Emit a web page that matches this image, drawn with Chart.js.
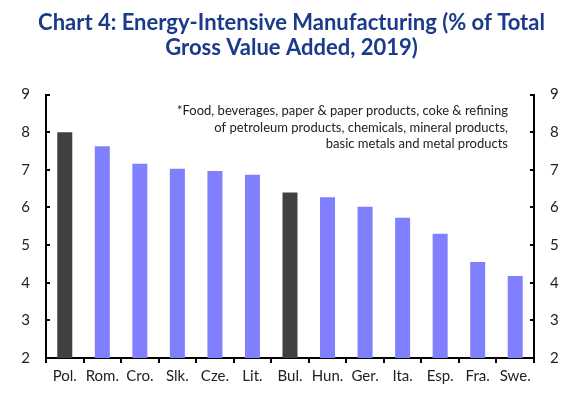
<!DOCTYPE html>
<html>
<head>
<meta charset="utf-8">
<script src="https://cdn.jsdelivr.net/npm/chart.js@4.4.1/dist/chart.umd.min.js"></script>
<style>
  html, body { margin: 0; padding: 0; background: #fff; }
  #wrap { width: 583px; height: 394px; }
</style>
</head>
<body>
<div id="wrap"><canvas id="chart" width="583" height="394"></canvas></div>
<script>
const countries = ["Pol.", "Rom.", "Cro.", "Slk.", "Cze.", "Lit.", "Bul.", "Hun.", "Ger.", "Ita.", "Esp.", "Fra.", "Swe."];
const shares = [8.0, 7.63, 7.16, 7.03, 6.97, 6.87, 6.4, 6.27, 6.02, 5.73, 5.3, 4.55, 4.18];
const highlighted = ["Pol.", "Bul."];
const yTicks = [2, 3, 4, 5, 6, 7, 8, 9];
const footnote = [
  "*Food, beverages, paper & paper products, coke & refining",
  "of petroleum products, chemicals, mineral products,",
  "basic metals and metal products"
];

const FONT = "Lato, 'Open Sans', sans-serif";

const barColors = countries.map(c => highlighted.includes(c) ? "#404040" : "#8080ff");

// small tick marks pointing into the plot on both y axes, plus the footnote
const extras = {
  id: "extras",
  afterDraw(chart) {
    const ctx = chart.ctx;
    const area = chart.chartArea;
    ctx.save();
    ctx.strokeStyle = "#000";
    ctx.lineWidth = 2;
    const yl = chart.scales.y;
    yTicks.forEach(v => {
      const py = Math.round(yl.getPixelForValue(v));
      ctx.beginPath();
      ctx.moveTo(area.left, py);
      ctx.lineTo(area.left + 4, py);
      ctx.moveTo(area.right, py);
      ctx.lineTo(area.right - 4, py);
      ctx.stroke();
    });
    ctx.fillStyle = "#222";
    ctx.font = "13px " + FONT;
    ctx.textAlign = "right";
    ctx.textBaseline = "middle";
    footnote.forEach((line, i) => {
      ctx.fillText(line, 508, 111 + i * 16.5);
    });
    ctx.restore();
  }
};

new Chart(document.getElementById("chart"), {
  type: "bar",
  data: {
    labels: countries,
    datasets: [{
      data: shares,
      backgroundColor: barColors,
      barPercentage: 0.4,
      categoryPercentage: 1.0
    }]
  },
  options: {
    responsive: false,
    animation: false,
    layout: { padding: { top: 10, left: 0, right: 0, bottom: 0 } },
    plugins: {
      legend: { display: false },
      tooltip: { enabled: false },
      title: {
        display: true,
        text: ["Chart 4: Energy-Intensive Manufacturing (% of Total", "Gross Value Added, 2019)"],
        color: "#1a3a8a",
        font: { family: FONT, size: 22, weight: "bold", lineHeight: 1.15 },
        padding: { top: 0, bottom: 34 }
      }
    },
    scales: {
      x: {
        grid: { display: true, drawOnChartArea: false, drawTicks: true, tickLength: 5, color: "#000", lineWidth: 2, offset: true },
        border: { display: true, color: "#000", width: 2 },
        ticks: { color: "#222", font: { family: FONT, size: 15 }, padding: 4, maxRotation: 0, autoSkip: false },
        afterFit(scale) { scale.height = 36; }
      },
      y: {
        position: "left",
        min: 2, max: 9,
        grid: { display: false },
        border: { display: true, color: "#000", width: 2 },
        ticks: { stepSize: 1, color: "#222", font: { family: FONT, size: 15 }, padding: 8 },
        afterFit(scale) { scale.width = 46; }
      },
      y2: {
        position: "right",
        min: 2, max: 9,
        grid: { display: false },
        border: { display: true, color: "#000", width: 2 },
        ticks: { stepSize: 1, color: "#222", font: { family: FONT, size: 15 }, padding: 8 },
        afterFit(scale) { scale.width = 49; }
      }
    }
  },
  plugins: [extras]
});
</script>
</body>
</html>
